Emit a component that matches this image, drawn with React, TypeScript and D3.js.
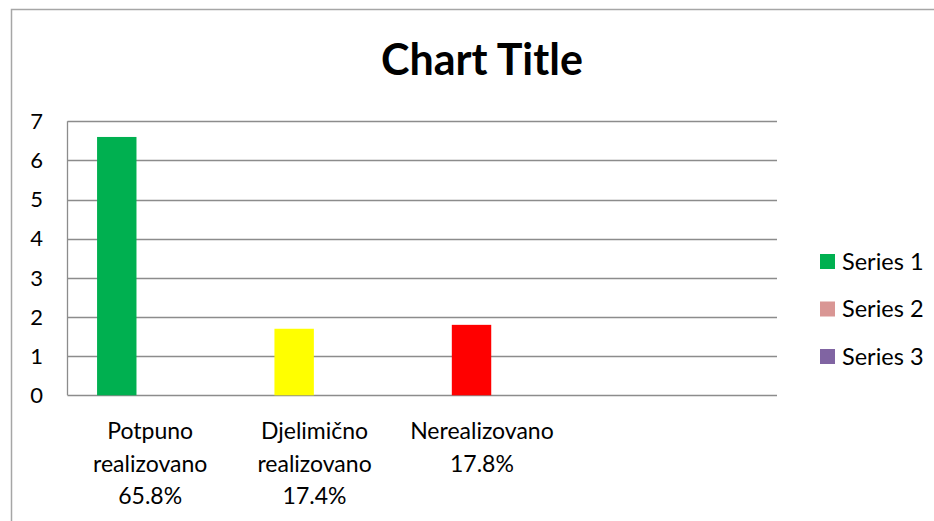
import React, { useRef, useEffect } from 'react';
import * as d3 from 'd3';

// categories (4th slot is empty in the source chart)
const categories = ['Potpuno\nrealizovano\n65.8%', 'Djelimično\nrealizovano\n17.4%', 'Nerealizovano\n17.8%', ''];
const seriesNames = ['Series 1', 'Series 2', 'Series 3'];
const series1 = [6.6, 1.7, 1.8, 0];
const series2 = [0, 0, 0, 0];
const series3 = [0, 0, 0, 0];
const yTicks = [0, 1, 2, 3, 4, 5, 6, 7];

const pointColors = ['#00B050', '#FFFF00', '#FF0000', '#00B050'];
const seriesColors = ['#00B050', '#D99694', '#8064A2'];
const labelShift = [-6, -19, -29, 0];

const FONT = 'Lato, "Open Sans", sans-serif';

const App: React.FC = () => {
  const svgRef = useRef<SVGSVGElement | null>(null);

  useEffect(() => {
    if (!svgRef.current) return;
    const svg = d3.select(svgRef.current);
    svg.selectAll('*').remove();

    const width = 934;
    const height = 521;
    const plot = { left: 67.5, right: 777, top: 121.3, bottom: 395.3 };

    // outer chart border (only left & top visible in the crop)
    svg.append('rect')
      .attr('x', 11.5).attr('y', 9.5)
      .attr('width', width + 10).attr('height', height + 10)
      .attr('fill', '#fff').attr('stroke', '#a6a6a6').attr('stroke-width', 1.5);

    svg.append('text')
      .attr('x', 482).attr('y', 75)
      .attr('text-anchor', 'middle')
      .style('font-family', FONT).style('font-weight', 700).style('font-size', '43px')
      .text('Chart Title');

    const x0 = d3.scaleBand<number>()
      .domain(d3.range(categories.length))
      .range([plot.left, plot.right]);

    const y = d3.scaleLinear().domain([0, 7]).range([plot.bottom, plot.top]);

    // Excel gap width 150%
    const barW = x0.bandwidth() / (seriesNames.length + 1.5);
    const gap = barW * 0.75;

    // gridlines
    svg.append('g')
      .selectAll('line')
      .data(yTicks)
      .enter()
      .append('line')
      .attr('x1', plot.left).attr('x2', plot.right)
      .attr('y1', d => Math.round(y(d)) + 0.5).attr('y2', d => Math.round(y(d)) + 0.5)
      .attr('stroke', '#8c8c8c').attr('stroke-width', 1.3);

    // value axis line
    svg.append('line')
      .attr('x1', plot.left).attr('x2', plot.left)
      .attr('y1', plot.top).attr('y2', plot.bottom)
      .attr('stroke', '#8c8c8c').attr('stroke-width', 1.3);

    svg.append('g')
      .selectAll('text')
      .data(yTicks)
      .enter()
      .append('text')
      .attr('x', 43).attr('y', d => y(d))
      .attr('dy', '0.35em')
      .attr('text-anchor', 'end')
      .style('font-family', FONT).style('font-size', '22px')
      .text(d => d);

    const allSeries = [series1, series2, series3];
    allSeries.forEach((vals, si) => {
      svg.append('g')
        .selectAll('rect')
        .data(vals)
        .enter()
        .append('rect')
        .attr('x', (_, i) => (x0(i) ?? 0) + gap + si * barW)
        .attr('y', d => y(d))
        .attr('width', barW)
        .attr('height', d => plot.bottom - y(d))
        .attr('fill', (_, i) => (si === 0 ? pointColors[i] : seriesColors[si]));
    });

    // category labels
    const cat = svg.append('g')
      .selectAll('text')
      .data(categories)
      .enter()
      .append('text')
      .attr('text-anchor', 'middle')
      .style('font-family', FONT).style('font-size', '23px');
    cat.each(function (d, i) {
      const t = d3.select(this);
      d.split('\n').forEach((line, li) => {
        t.append('tspan')
          .attr('x', (x0(i) ?? 0) + x0.bandwidth() / 2 + labelShift[i])
          .attr('y', 439 + li * 32.5)
          .text(line);
      });
    });

    // legend
    const lg = svg.append('g')
      .selectAll('g')
      .data(seriesNames)
      .enter()
      .append('g')
      .attr('transform', (_, i) => `translate(820,${254 + i * 47.5})`);
    lg.append('rect')
      .attr('width', 15).attr('height', 15)
      .attr('fill', (_, i) => seriesColors[i]);
    lg.append('text')
      .attr('x', 22).attr('y', 7.5).attr('dy', '0.36em')
      .style('font-family', FONT).style('font-size', '23.5px')
      .text(d => d);
  }, []);

  return (
    <svg
      ref={svgRef}
      width={934}
      height={521}
      style={{ position: 'absolute', left: 0, top: 0, background: '#fff' }}
    />
  );
};

export default App;
